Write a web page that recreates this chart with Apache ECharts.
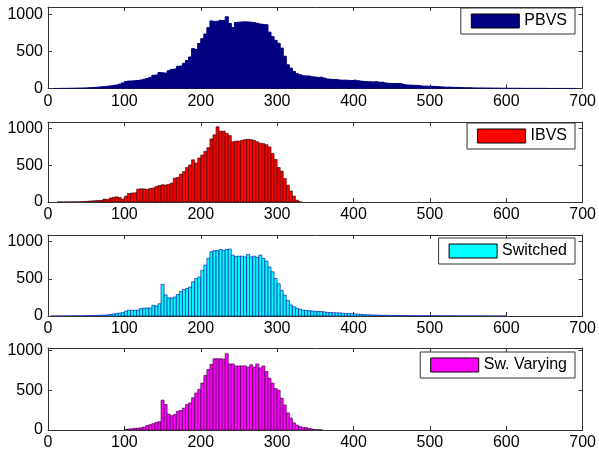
<!DOCTYPE html>
<html>
<head>
<meta charset="utf-8">
<script src="https://cdn.jsdelivr.net/npm/echarts@6/dist/echarts.min.js"></script>
<style>
html, body { margin: 0; padding: 0; background: #fff; }
#chart { width: 599px; height: 457px; }
</style>
</head>
<body>
<div id="chart"></div>
<script>
// histogram bins of width 4, starting at 0
var binWidth = 4;
var xTicks = [0, 100, 200, 300, 400, 500, 600, 700];
var yTicks = [0, 500, 1000];
var names = ['PBVS', 'IBVS', 'Switched', 'Sw. Varying'];

var pbvs = [
    0, 0, 1, 1, 2, 2, 3, 3, 4, 5,
    6, 7, 8, 10, 12, 15, 18, 22, 26, 30,
    35, 40, 48, 60, 75, 95, 100, 102, 105, 108,
    115, 125, 135, 150, 178, 182, 215, 212, 208, 240,
    258, 262, 300, 302, 340, 378, 425, 538, 528, 608,
    672, 735, 822, 912, 905, 908, 920, 918, 968, 878,
    822, 890, 895, 898, 900, 898, 895, 888, 880, 870,
    865, 860, 760, 700, 650, 610, 545, 435, 320, 275,
    230, 200, 185, 172, 170, 168, 158, 155, 150, 152,
    140, 128, 125, 122, 120, 115, 112, 113, 110, 108,
    112, 105, 100, 95, 92, 90, 88, 92, 85, 85,
    75, 70, 68, 66, 68, 65, 55, 48, 45, 44,
    42, 40, 34, 32, 30, 30, 28, 25, 22, 20,
    18, 18, 16, 15, 14, 12, 10, 10, 9, 8,
    8, 7, 7, 6, 6, 5, 5, 5, 4, 4,
    3, 3, 3, 3, 3, 2, 2, 2, 2, 2,
    2, 2, 2, 1, 1, 1, 1, 1, 1, 1,
    1, 1, 1, 0, 0
];

var ibvs = [
    0, 0, 0, 1, 1, 1, 1, 2, 2, 2,
    3, 5, 8, 12, 15, 18, 20, 22, 40, 35,
    55, 65, 70, 60, 40, 80, 115, 122, 125, 175,
    180, 178, 172, 185, 190, 212, 225, 235, 232, 240,
    258, 325, 335, 380, 415, 470, 505, 575, 530, 600,
    640, 690, 740, 860, 915, 1025, 965, 965, 935, 905,
    820, 830, 830, 840, 850, 855, 850, 840, 820, 800,
    795, 780, 750, 660, 580, 470, 420, 320, 230, 150,
    80, 25, 3
];

var switched = [
    0, 1, 1, 1, 2, 2, 2, 2, 3, 3,
    3, 4, 5, 5, 6, 7, 8, 10, 12, 15,
    22, 28, 35, 40, 45, 65, 77, 78, 78, 80,
    100, 105, 108, 108, 145, 135, 165, 425, 285, 245,
    240, 255, 290, 330, 355, 370, 390, 460, 505, 525,
    615, 685, 775, 865, 880, 880, 895, 880, 895, 900,
    820, 800, 805, 805, 795, 830, 795, 805, 790, 820,
    775, 740, 660, 595, 505, 435, 345, 280, 210, 150,
    125, 105, 92, 80, 76, 72, 68, 63, 62, 60,
    55, 48, 45, 45, 42, 42, 38, 34, 32, 30,
    28, 25, 20, 18, 17, 15, 14, 12, 12, 10,
    10, 9, 8, 8, 7, 7, 6, 6, 5, 5,
    5, 5, 4, 4, 4, 4, 3, 3, 3, 3,
    3, 3, 3, 2, 2, 2, 2, 2, 2, 2,
    2, 2, 2, 1, 1, 1, 1, 1, 1, 1
];

var swVarying = [
    0, 0, 0, 0, 0, 0, 0, 0, 0, 0,
    0, 0, 0, 0, 0, 0, 0, 0, 0, 0,
    0, 0, 0, 0, 0, 8, 13, 16, 21, 24,
    29, 38, 55, 67, 80, 97, 105, 375, 320, 200,
    180, 195, 235, 245, 275, 320, 340, 405, 465, 510,
    590, 685, 760, 825, 895, 895, 895, 890, 958, 830,
    830, 805, 805, 805, 805, 790, 820, 790, 830, 780,
    805, 735, 650, 590, 520, 500, 400, 315, 215, 150,
    90, 63, 42, 33, 30, 21, 12, 6, 3, 2
];

var counts = [pbvs, ibvs, switched, swVarying];
var fills = ['#000080', '#ff0000', '#00ffff', '#ff00ff'];
var edges = ['#000080', '#2a0000', '#0000a0', '#2a002a'];
var edgeWidths = [1, 0.6, 0.6, 0.6];
var yMax = [1100, 1090, 1090, 1030];

var grids = [
    {left: 48, width: 538, top: 7, height: 81.5},
    {left: 48, width: 538, top: 122, height: 80},
    {left: 48, width: 538, top: 235, height: 81},
    {left: 48, width: 538, top: 348, height: 82}
];
var legendTops = [8, 123, 238, 352];

var fontFamily = '"Liberation Sans", Arial, sans-serif';
var axisColor = '#333';

function makeRender(fill, stroke, lw) {
    return function (params, api) {
        var x0 = api.value(0);
        var c = api.value(1);
        if (!c) return;
        var a = api.coord([x0, 0]);
        var b = api.coord([x0 + binWidth, c]);
        return {
            type: 'rect',
            shape: {x: a[0], y: b[1], width: b[0] - a[0], height: a[1] - b[1]},
            style: {fill: fill, stroke: stroke, lineWidth: lw}
        };
    };
}

var myChart = echarts.init(document.getElementById('chart'), null, {renderer: 'canvas'});

var xAxis = [], yAxis = [], series = [], legend = [];
for (var i = 0; i < 4; i++) {
    xAxis.push({
        gridIndex: i, type: 'value', min: xTicks[0], max: xTicks[xTicks.length - 1],
        interval: 100, position: 'bottom',
        axisLine: {onZero: false, lineStyle: {color: axisColor, width: 1}},
        axisTick: {inside: true, length: 4, lineStyle: {color: axisColor}},
        axisLabel: {color: '#000', fontSize: 16, fontFamily: fontFamily, margin: 5,
            formatter: function (v) { return String(v); }},
        splitLine: {show: false}
    });
    xAxis.push({
        gridIndex: i, type: 'value', min: xTicks[0], max: xTicks[xTicks.length - 1],
        interval: 100, position: 'top',
        axisLine: {onZero: false, lineStyle: {color: axisColor, width: 1}},
        axisTick: {inside: true, length: 4, lineStyle: {color: axisColor}},
        axisLabel: {show: false},
        splitLine: {show: false}
    });
    yAxis.push({
        gridIndex: i, type: 'value', min: 0, max: yMax[i], interval: 500, position: 'left',
        axisLine: {show: true, onZero: false, lineStyle: {color: axisColor, width: 1}},
        axisTick: {show: true, inside: true, length: 4, lineStyle: {color: axisColor},
            customValues: yTicks},
        axisLabel: {color: '#000', fontSize: 16, fontFamily: fontFamily, margin: 5,
            customValues: yTicks, formatter: function (v) { return String(v); }},
        splitLine: {show: false}
    });
    yAxis.push({
        gridIndex: i, type: 'value', min: 0, max: yMax[i], interval: 500, position: 'right',
        axisLine: {show: true, onZero: false, lineStyle: {color: axisColor, width: 1}},
        axisTick: {show: true, inside: true, length: 4, lineStyle: {color: axisColor},
            customValues: yTicks},
        axisLabel: {show: false},
        splitLine: {show: false}
    });

    var data = counts[i].map(function (c, k) { return [k * binWidth, c]; });
    series.push({
        name: names[i],
        type: 'custom',
        coordinateSystem: 'cartesian2d',
        xAxisIndex: i * 2,
        yAxisIndex: i * 2,
        clip: true,
        silent: true,
        encode: {x: 0, y: 1},
        itemStyle: {color: fills[i], borderColor: '#000', borderWidth: 1},
        renderItem: makeRender(fills[i], edges[i], edgeWidths[i]),
        data: data
    });

    legend.push({
        data: [{name: names[i], icon: 'rect',
            itemStyle: {color: fills[i], borderColor: '#000', borderWidth: 1}}],
        right: 24,
        top: legendTops[i],
        padding: [5, 8, 5, 10],
        itemWidth: 48,
        itemHeight: 14,
        backgroundColor: '#fff',
        borderColor: '#333',
        borderWidth: 1,
        selectedMode: false,
        textStyle: {color: '#000', fontSize: 16, fontFamily: fontFamily}
    });
}

option = {
    animation: false,
    backgroundColor: '#fff',
    grid: grids,
    legend: legend,
    xAxis: xAxis,
    yAxis: yAxis,
    series: series
};

myChart.setOption(option);
</script>
</body>
</html>
